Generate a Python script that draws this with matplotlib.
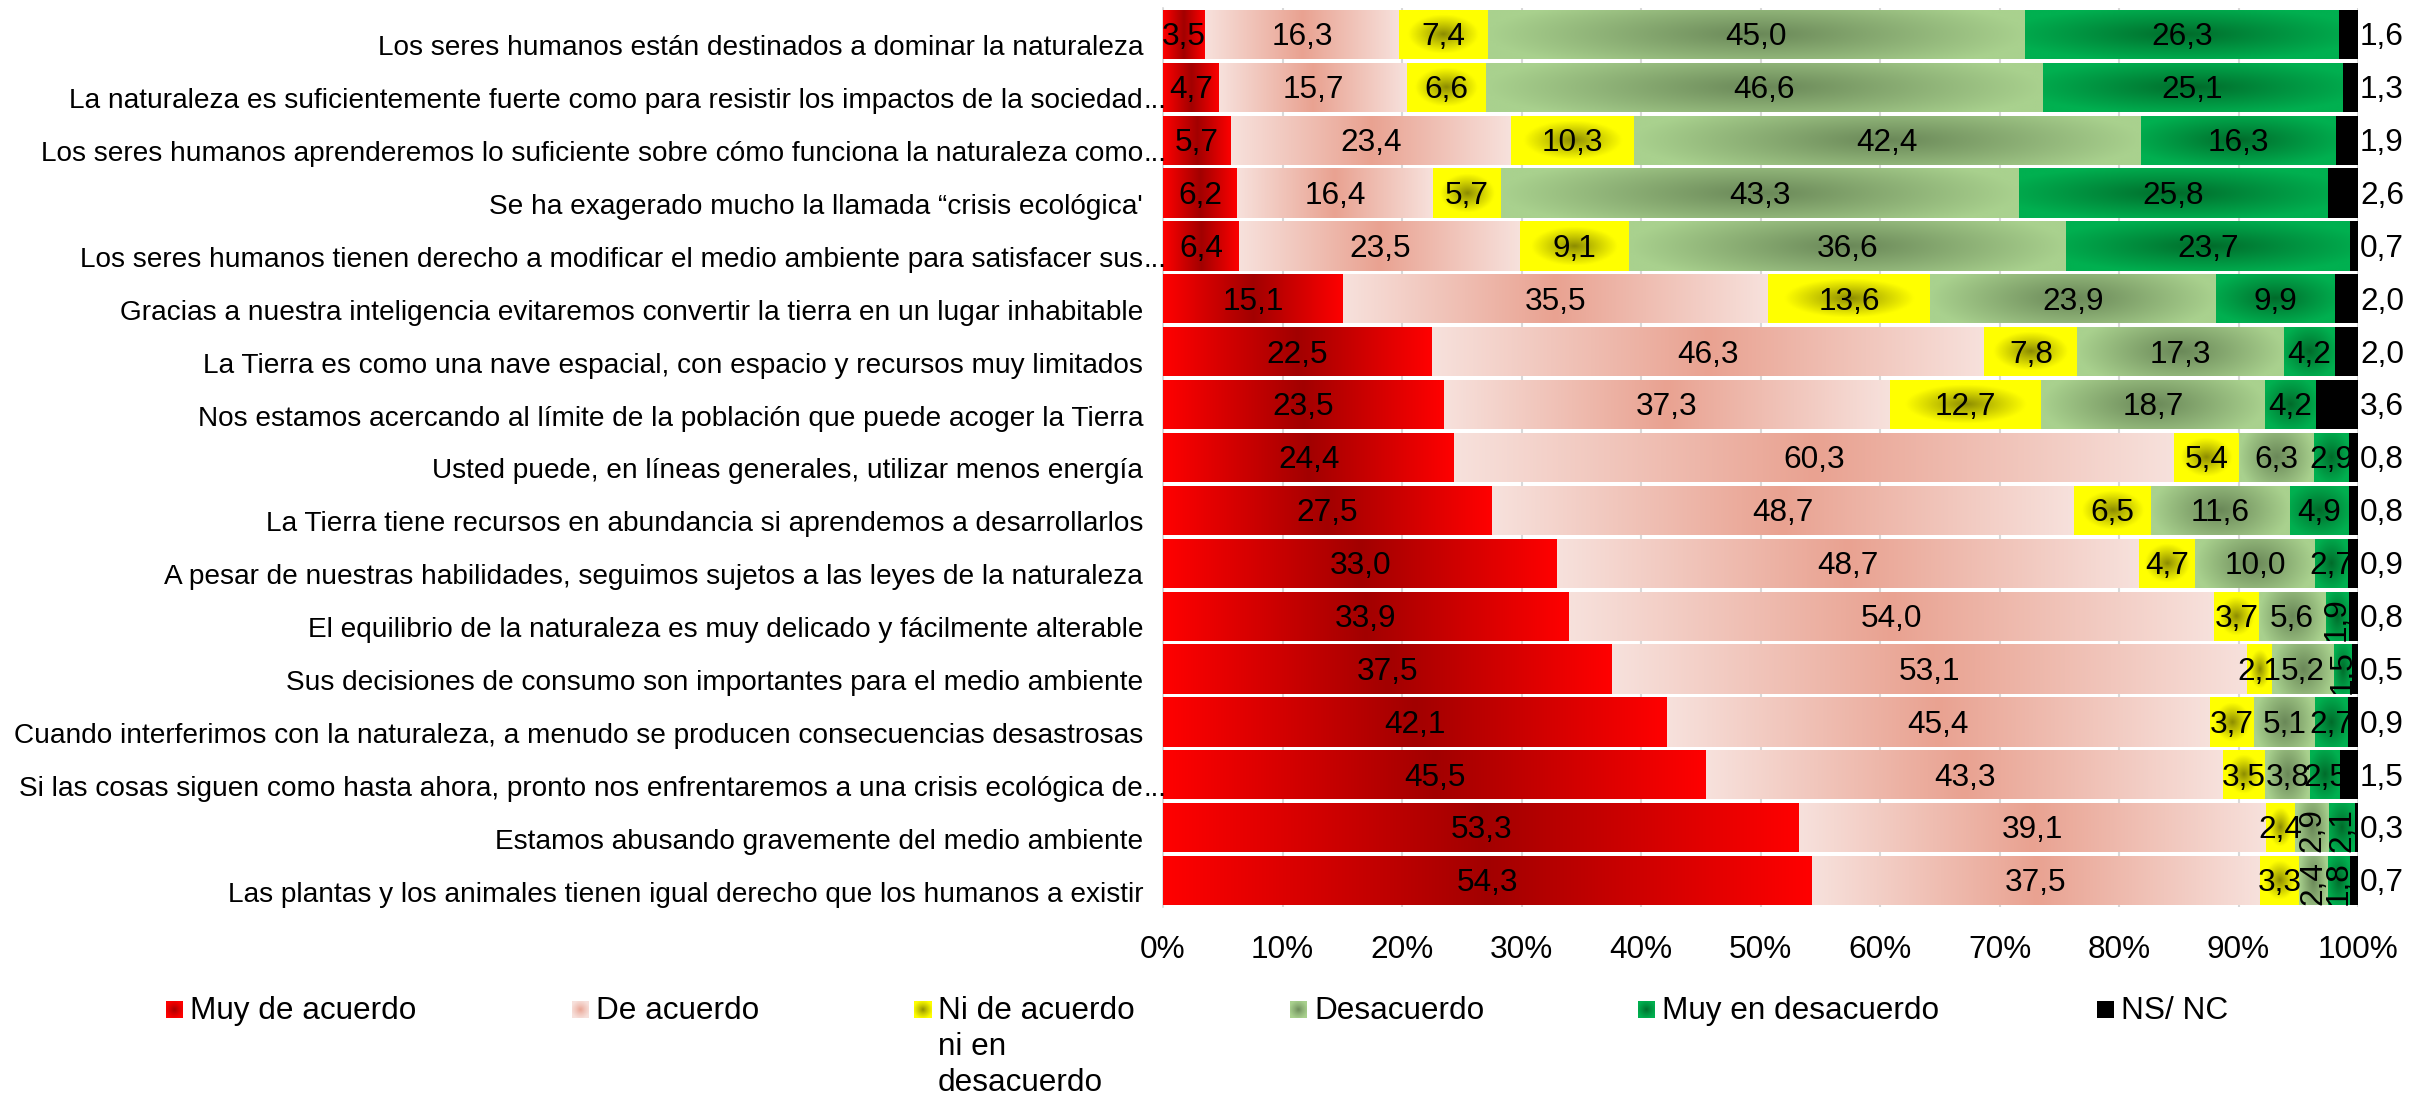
import numpy as np
import matplotlib
matplotlib.use("Agg")
import matplotlib.pyplot as plt
from matplotlib.colors import to_rgb
from matplotlib.transforms import blended_transform_factory, ScaledTranslation

# --- data ---
categories = [
    "Los seres humanos están destinados a dominar la naturaleza",
    "La naturaleza es suficientemente fuerte como para resistir los impactos de la sociedad...",
    "Los seres humanos aprenderemos lo suficiente sobre cómo funciona la naturaleza como...",
    "Se ha exagerado mucho la llamada “crisis ecológica'",
    "Los seres humanos tienen derecho a modificar el medio ambiente para satisfacer sus...",
    "Gracias a nuestra inteligencia evitaremos convertir la tierra en un lugar inhabitable",
    "La Tierra es como una nave espacial, con espacio y recursos muy limitados",
    "Nos estamos acercando al límite de la población que puede acoger la Tierra",
    "Usted puede, en líneas generales, utilizar menos energía",
    "La Tierra tiene recursos en abundancia si aprendemos a desarrollarlos",
    "A pesar de nuestras habilidades, seguimos sujetos a las leyes de la naturaleza",
    "El equilibrio de la naturaleza es muy delicado y fácilmente alterable",
    "Sus decisiones de consumo son importantes para el medio ambiente",
    "Cuando interferimos con la naturaleza, a menudo se producen consecuencias desastrosas",
    "Si las cosas siguen como hasta ahora, pronto nos enfrentaremos a una crisis ecológica de...",
    "Estamos abusando gravemente del medio ambiente",
    "Las plantas y los animales tienen igual derecho que los humanos a existir",
]
muy_de_acuerdo = [3.5, 4.7, 5.7, 6.2, 6.4, 15.1, 22.5, 23.5, 24.4, 27.5, 33.0, 33.9, 37.5, 42.1, 45.5, 53.3, 54.3]
de_acuerdo = [16.3, 15.7, 23.4, 16.4, 23.5, 35.5, 46.3, 37.3, 60.3, 48.7, 48.7, 54.0, 53.1, 45.4, 43.3, 39.1, 37.5]
ni_acuerdo = [7.4, 6.6, 10.3, 5.7, 9.1, 13.6, 7.8, 12.7, 5.4, 6.5, 4.7, 3.7, 2.1, 3.7, 3.5, 2.4, 3.3]
desacuerdo = [45.0, 46.6, 42.4, 43.3, 36.6, 23.9, 17.3, 18.7, 6.3, 11.6, 10.0, 5.6, 5.2, 5.1, 3.8, 2.9, 2.4]
muy_desacuerdo = [26.3, 25.1, 16.3, 25.8, 23.7, 9.9, 4.2, 4.2, 2.9, 4.9, 2.7, 1.9, 1.5, 2.7, 2.5, 2.1, 1.8]
ns_nc = [1.6, 1.3, 1.9, 2.6, 0.7, 2.0, 2.0, 3.6, 0.8, 0.8, 0.9, 0.8, 0.5, 0.9, 1.5, 0.3, 0.7]
series_names = ["Muy de acuerdo", "De acuerdo", "Ni de acuerdo\nni en\ndesacuerdo",
                "Desacuerdo", "Muy en desacuerdo", "NS/ NC"]
x_ticks = [0, 10, 20, 30, 40, 50, 60, 70, 80, 90, 100]
x_tick_labels = ["0%", "10%", "20%", "30%", "40%", "50%", "60%", "70%", "80%", "90%", "100%"]

# --- styles: (edge colour, centre colour, gradient kind, falloff) ---
styles = [
    ("#ff0000", "#a20000", "linear", 1.0),
    ("#f7e1dc", "#e9a291", "linear", 1.0),
    ("#ffff00", "#8a8a00", "radial_small", 0.9),
    ("#a9d18e", "#6a8858", "radial_wide", 1.0),
    ("#00b050", "#006a2a", "radial", 0.9),
    ("#000000", "#000000", "flat", 1.0),
]
# labels that Excel rotated in the narrow segments (row, series)
rotated = {(11, 4), (12, 4), (15, 3), (15, 4), (16, 3), (16, 4)}

W, H, DPI = 2417, 1096, 100
FONT = "Liberation Sans"
plt.rcParams["font.family"] = [FONT, "DejaVu Sans"]


def gradient(edge, center, kind, power, nx=160, ny=40):
    u = np.linspace(-1, 1, nx)
    v = np.linspace(-1, 1, ny)
    U, V = np.meshgrid(u, v)
    if kind == "linear":
        t = np.abs(U)
    elif kind == "radial_small":
        t = np.sqrt(U ** 2 + V ** 2) / 0.8
    elif kind == "radial_wide":
        t = np.sqrt(U ** 2 + (0.6 * V) ** 2)
    elif kind == "radial":
        t = np.sqrt(U ** 2 + V ** 2) / 1.15
    else:
        t = np.ones_like(U)
    t = np.clip(t, 0, 1) ** power
    e = np.array(to_rgb(edge))
    c = np.array(to_rgb(center))
    return c[None, None, :] * (1 - t[..., None]) + e[None, None, :] * t[..., None]


def fmt(v):
    return f"{v:.1f}".replace(".", ",")


raw = np.array([muy_de_acuerdo, de_acuerdo, ni_acuerdo, desacuerdo, muy_desacuerdo, ns_nc])
shares = raw / raw.sum(axis=0) * 100
n = len(categories)
y = np.arange(n)

fig = plt.figure(figsize=(W / DPI, H / DPI), dpi=DPI)
ax = fig.add_axes([1163 / W, 1 - 907 / H, (2358 - 1163) / W, (907 - 8) / H])

left = np.zeros(n)
for k in range(len(series_names)):
    edge, center, kind, power = styles[k]
    bars = ax.barh(y, shares[k], left=left, height=0.93, color=edge, linewidth=0, zorder=2)
    for i, patch in enumerate(bars):
        x0, w = patch.get_x(), patch.get_width()
        y0, h = patch.get_y(), patch.get_height()
        if kind != "flat":
            img = gradient(edge, center, kind, power)
            im = ax.imshow(img, extent=(x0, x0 + w, y0 + h, y0), aspect="auto",
                           interpolation="bilinear", zorder=3)
            im.set_clip_path(patch)
        if k < 5:
            rot = 90 if (i, k) in rotated else 0
            ax.annotate(fmt(raw[k][i]), xy=(x0 + w / 2, i), xytext=(0, -2),
                        textcoords="offset points", ha="center", va="center",
                        fontsize=22.7, rotation=rot, zorder=5)
        else:
            ax.annotate(fmt(raw[k][i]), xy=(100, i), xytext=(1.5, -2),
                        textcoords="offset points", ha="left", va="center",
                        fontsize=22.7, zorder=5, annotation_clip=False)
    left += shares[k]

ax.set_xlim(0, 100)
ax.set_ylim(n - 0.5, -0.5)
ax.set_xticks(x_ticks, x_tick_labels, fontsize=22.7)
ax.tick_params(axis="x", length=0, pad=20.5)
ax.set_yticks([])
ax.grid(axis="x", color="#d9d9d9", linewidth=1.5, zorder=0)
ax.set_axisbelow(True)
for side in ["top", "right", "bottom"]:
    ax.spines[side].set_visible(False)
ax.spines["left"].set_color("#d9d9d9")
ax.spines["left"].set_linewidth(1.2)

# category labels; truncated ones let the "..." run past the text edge like Excel
lab_tr = blended_transform_factory(ax.transAxes, ax.transData) + \
    ScaledTranslation(-20 / DPI, -11 / DPI, fig.dpi_scale_trans)
for i, cat in enumerate(categories):
    if cat.endswith("..."):
        ax.text(0, i, cat[:-3], transform=lab_tr, ha="right", va="center_baseline", fontsize=20.2)
        ax.text(0, i, "...", transform=lab_tr, ha="left", va="center_baseline", fontsize=20.2)
    else:
        ax.text(0, i, cat, transform=lab_tr, ha="right", va="center_baseline", fontsize=20.2)

# legend drawn as marker squares + text, laid out like the Excel legend
legend_x = [166, 572, 914, 1290, 1638, 2097]
for k, name in enumerate(series_names):
    edge, center, kind, power = styles[k]
    mx = fig.add_axes([legend_x[k] / W, 1 - 1018 / H, 17 / W, 17 / H])
    mk = "radial" if kind != "flat" else "flat"
    mx.imshow(gradient(edge, center, mk, 0.8, nx=20, ny=20), aspect="auto",
              interpolation="bilinear")
    mx.axis("off")
    fig.text((legend_x[k] + 24) / W, 1 - 996 / H, name, ha="left", va="top",
             fontsize=22.7, linespacing=1.27)

fig.savefig("out.png", dpi=DPI)
